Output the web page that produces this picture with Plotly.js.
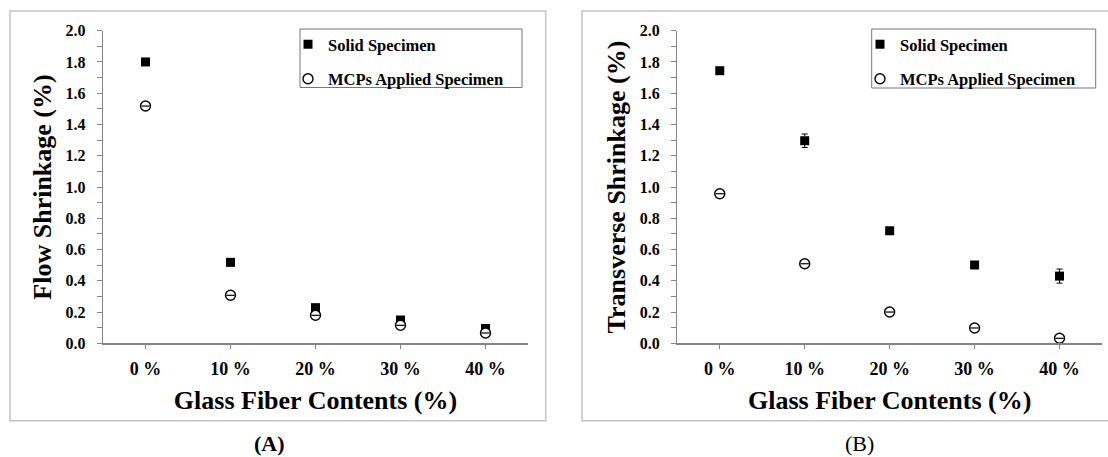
<!DOCTYPE html>
<html>
<head>
<meta charset="utf-8">
<script src="https://cdn.plot.ly/plotly-3.0.1.min.js"></script>
<style>html,body{margin:0;padding:0;background:#fff;}#chart{width:1108px;height:457px;}</style>
</head>
<body>
<div id="chart"></div>
<script>
// ---- data ----
const categories = ['0 %', '10 %', '20 %', '30 %', '40 %'];
const seriesNames = ['Solid Specimen', 'MCPs Applied Specimen'];

const flowSolid = [1.80, 0.518, 0.228, 0.149, 0.095];
const flowSolidErr = [0.01, 0.01, 0.01, 0.01, 0.01];
const flowMCP = [1.518, 0.307, 0.179, 0.115, 0.066];

const transSolid = [1.744, 1.296, 0.720, 0.501, 0.430];
const transSolidErr = [0.01, 0.043, 0.01, 0.01, 0.045];
const transMCP = [0.957, 0.509, 0.200, 0.098, 0.032];

const xTitle = 'Glass Fiber Contents (%)';
const yTitleA = 'Flow Shrinkage (%)';
const yTitleB = 'Transverse Shrinkage (%)';
const panelLabels = ['(A)', '(B)'];

// ---- styling ----
const W = 1108, H = 457;
const px = v => v / W;
const py = v => 1 - v / H;
const FONT = 'Liberation Serif, Times New Roman, serif';
const AX = '#858585';

function solidTrace(y, err, xa, ya, leg) {
  return {
    type: 'scatter', mode: 'markers', x: categories, y: y,
    xaxis: xa, yaxis: ya, name: seriesNames[0], legend: leg, legendgroup: 's' + leg,
    marker: {symbol: 'square', size: 9, color: '#000', line: {width: 0}},
    error_y: {type: 'data', array: err, visible: true, color: '#000', thickness: 1, width: 3},
    cliponaxis: false
  };
}
function mcpTrace(y, xa, ya, leg) {
  return {
    type: 'scatter', mode: 'markers', x: categories, y: y,
    xaxis: xa, yaxis: ya, name: seriesNames[1], legend: leg, legendgroup: 'm' + leg,
    marker: {symbol: 'circle', size: 10, color: '#fff', line: {width: 1.4, color: '#000'}},
    cliponaxis: false
  };
}
// small error-bar caps visible inside the open circles
function capTrace(y, xa, ya, leg) {
  return {
    type: 'scatter', mode: 'markers', x: categories, y: y,
    xaxis: xa, yaxis: ya, showlegend: false, legend: leg, hoverinfo: 'skip',
    marker: {symbol: 'line-ew-open', size: 6, color: '#000', line: {width: 1.2, color: '#000'}},
    cliponaxis: false
  };
}

const data = [
  solidTrace(flowSolid, flowSolidErr, 'x', 'y', 'legend'),
  mcpTrace(flowMCP, 'x', 'y', 'legend'),
  capTrace(flowMCP, 'x', 'y', 'legend'),
  solidTrace(transSolid, transSolidErr, 'x2', 'y2', 'legend2'),
  mcpTrace(transMCP, 'x2', 'y2', 'legend2'),
  capTrace(transMCP, 'x2', 'y2', 'legend2')
];

function xAxis(domain, anchor) {
  return {
    domain: domain, anchor: anchor, type: 'category', range: [-0.5, 4.5],
    showline: true, linecolor: AX, linewidth: 1.3, mirror: false,
    ticks: 'outside', ticklen: 4, tickcolor: AX, tickwidth: 1, ticklabelstandoff: 5,
    showgrid: false, zeroline: false, fixedrange: true,
    tickfont: {family: FONT, size: 18, color: '#000', weight: 'bold'},
    title: {text: xTitle, standoff: 12, font: {family: FONT, size: 26, color: '#000', weight: 'bold'}}
  };
}
function yAxis(domain, anchor, title) {
  return {
    domain: domain, anchor: anchor, range: [0, 2], dtick: 0.2, tick0: 0, tickformat: '.1f',
    showline: true, linecolor: AX, linewidth: 1.3,
    ticks: 'outside', ticklen: 5, tickcolor: AX, tickwidth: 1, ticklabelstandoff: 8,
    minor: {dtick: 0.1, ticks: 'outside', ticklen: 5, tickcolor: AX, tickwidth: 1, showgrid: false},
    showgrid: false, zeroline: false, fixedrange: true,
    tickfont: {family: FONT, size: 16, color: '#000', weight: 'bold'},
    title: {text: title, standoff: 6, font: {family: FONT, size: 26, color: '#000', weight: 'bold'}}
  };
}
function legendCfg(x) {
  return {
    x: x, y: py(27), xanchor: 'left', yanchor: 'top', xref: 'paper', yref: 'paper',
    bgcolor: 'rgba(0,0,0,0)', borderwidth: 0,
    font: {family: FONT, size: 16.5, color: '#000', weight: 'bold'},
    tracegroupgap: 10, traceorder: 'grouped', itemclick: false
  };
}

const yDom = [py(343.3), py(30.7)];
const layout = {
  width: W, height: H, margin: {l: 0, r: 0, t: 0, b: 0},
  paper_bgcolor: '#fff', plot_bgcolor: 'rgba(0,0,0,0)',
  showlegend: true,
  xaxis: xAxis([px(103), px(528)], 'y'),
  yaxis: yAxis(yDom, 'x', yTitleA),
  xaxis2: xAxis([px(677.3), px(1102)], 'y2'),
  yaxis2: yAxis(yDom, 'x2', yTitleB),
  legend: legendCfg(px(288)),
  legend2: legendCfg(px(860)),
  shapes: [
    {type: 'rect', xref: 'paper', yref: 'paper', x0: px(10), x1: px(545.7), y0: py(420.7), y1: py(11),
     line: {color: '#c4c4c4', width: 1.5}, layer: 'below'},
    {type: 'rect', xref: 'paper', yref: 'paper', x0: px(582), x1: px(1115), y0: py(420.7), y1: py(11),
     line: {color: '#c4c4c4', width: 1.5}, layer: 'below'},
    {type: 'rect', xref: 'paper', yref: 'paper', x0: px(300), x1: px(522), y0: py(87.5), y1: py(29),
     line: {color: '#777', width: 1}, fillcolor: '#fff', layer: 'above'},
    {type: 'rect', xref: 'paper', yref: 'paper', x0: px(871.7), x1: px(1095.7), y0: py(88), y1: py(29),
     line: {color: '#777', width: 1}, fillcolor: '#fff', layer: 'above'}
  ],
  annotations: [
    {text: panelLabels[0], xref: 'paper', yref: 'paper', x: px(269), y: py(443), xanchor: 'center', yanchor: 'middle',
     showarrow: false, font: {family: FONT, size: 22, color: '#000', weight: 'bold'}},
    {text: panelLabels[1], xref: 'paper', yref: 'paper', x: px(859), y: py(443), xanchor: 'center', yanchor: 'middle',
     showarrow: false, font: {family: FONT, size: 22, color: '#000'}}
  ]
};

Plotly.newPlot('chart', data, layout, {displayModeBar: false, staticPlot: true});
</script>
</body>
</html>
